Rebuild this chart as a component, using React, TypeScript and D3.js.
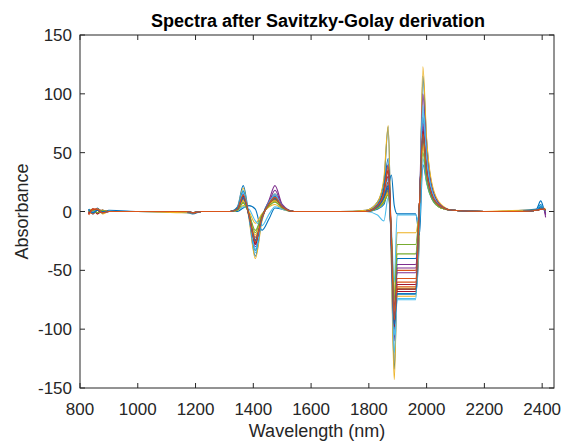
import * as d3 from 'd3';

// wavelength knots (nm) shared by all spectra
const knots = [
  830, 845, 860, 878, 900, 1000, 1170, 1190, 1220, 1320,
  1345, 1365, 1385, 1407, 1430, 1455, 1475, 1500, 1540, 1700,
  1790, 1830, 1852, 1867, 1878, 1888, 1898, 1962, 1975, 1987,
  2000, 2020, 2050, 2090, 2200, 2330, 2380, 2395, 2405, 2412,
];

// one row per spectrum, values read at the knots above
const spectra: number[][] = [
  [2, -2, 3, -1, 1, 0, -1, -2, 0, 0, 4, 22, -4, -38, -6, 8, 10, 4, 0, 0, 1, 8, 25, 72, -40, -134, -70, -70, -20, 115, 60, 20, 5, 1, 0, 1, 2, 9, 3, -2],
  [-1, 2, -2, 1, 0, 0, 0, -1, 0, 0, 2, 12, -3, -27, -5, 7, 11, 4, 0, 0, 0, 4, 14, 35, -25, -95, -60, -60, 5, 68, 36, 14, 4, 1, 0, 0, 1, 3, 2, 1],
  [1, 0, 2, -2, 0, 0, -1, -1, 0, 0, 3, 20, -6, -40, -8, 9, 15, 5, 0, 0, 1, 8, 28, 73, -45, -143, -65, -65, -15, 123, 62, 22, 6, 1, 0, 1, 1, 4, 3, 2],
  [0, 1, -1, 1, 0, 0, 0, -1, 0, 0, 2, 15, -4, -30, -6, 10, 22, 6, 0, 0, 0, 5, 12, 25, -30, -110, -45, -45, 5, 100, 50, 18, 5, 1, 0, 0, 1, 2, 3, -5],
  [1, -1, 1, 0, 0, 0, 0, -1, 0, 0, 1, 8, -2, -18, -3, 5, 10, 3, 0, 0, 0, 3, 8, 20, -20, -85, -28, -28, 5, 60, 30, 12, 3, 1, 0, 0, 1, 2, 2, 1],
  [0, 2, -1, 1, 0, 0, 0, -1, 0, 0, 3, 18, -5, -35, -6, 8, 15, 5, 0, 0, 0, 5, 16, 30, -35, -120, -75, -75, 0, 90, 46, 16, 4, 1, 0, 0, 1, 3, 2, 1],
  [-2, 1, 2, -1, 0, 0, 0, -1, 0, 0, 2, 12, -3, -25, -5, 6, 10, 4, 0, 0, 0, 5, 18, 40, -20, -90, -68, -68, 5, 60, 32, 13, 4, 1, 0, 0, 1, 2, 2, 1],
  [1, -1, 2, 0, 0, 0, 0, -1, 0, 0, 0, 3, 5, 2, -16, -6, 3, 2, 0, 0, 0, 2, 6, 20, 31, 5, -2, -2, -20, 40, 25, 10, 3, 1, 0, 0, 1, 6, 2, 0],
  [0, -2, 1, 1, 0, 0, 0, -1, 0, 0, 1, 10, -2, -22, -4, 6, 9, 3, 0, 0, 0, 3, 10, 18, -22, -80, -50, -50, 5, 65, 33, 12, 4, 1, 0, 0, 1, 2, 2, 1],
  [1, 1, -1, 0, 0, 0, 0, -1, 0, 0, 1, 5, 0, -10, -2, 4, 6, 2, 0, 0, 0, 3, 8, 15, -20, -70, -18, -18, 5, 55, 28, 11, 3, 1, 0, 0, 1, 3, 2, 1],
  [-1, 1, 1, -1, 0, 0, 0, -1, 0, 0, 2, 14, -3, -28, -5, 8, 18, 5, 0, 0, 0, 4, 12, 22, -28, -95, -52, -52, 5, 72, 37, 14, 4, 1, 0, 0, 1, 2, 2, -3],
  [0, -1, 2, 0, 0, 0, 0, -1, 0, 0, 2, 10, -3, -24, -4, 6, 10, 3, 0, 0, 0, 3, 10, 18, -25, -88, -66, -66, 5, 62, 32, 12, 3, 1, 0, 0, 1, 2, 2, 1],
  [1, 0, 1, -1, 0, 0, 0, -1, 0, 0, 1, 4, 2, -8, -12, -2, 4, 2, 0, 0, 0, -3, -8, 12, -15, -60, -3, -3, -10, 45, 24, 10, 3, 1, 0, 0, 1, 5, 2, 0],
  [-1, 2, -2, 1, 0, 0, 0, -1, 0, 0, 2, 13, -3, -28, -5, 7, 12, 4, 0, 0, 0, 4, 14, 30, -28, -100, -62, -62, 5, 70, 36, 13, 4, 1, 0, 0, 1, 2, 2, 1],
  [2, -1, 1, 0, 0, 0, 0, -1, 0, 0, 3, 17, -4, -33, -6, 8, 13, 4, 0, 0, 0, 6, 20, 45, -30, -100, -40, -40, 0, 80, 42, 15, 4, 1, 0, 0, 1, 4, 2, 1],
  [-2, 1, 2, 0, 0, 0, 0, -1, 0, 0, 2, 12, -3, -26, -5, 7, 11, 4, 0, 0, 0, 4, 13, 25, -26, -92, -57, -57, 5, 66, 34, 13, 4, 1, 0, 0, 1, 2, 2, 1],
  [0, 2, -1, 1, 0, 0, 0, -1, 0, 0, 1, 9, -2, -20, -4, 6, 9, 3, 0, 0, 0, 3, 9, 16, -22, -85, -72, -72, 5, 58, 30, 12, 3, 1, 0, 0, 1, 2, 2, 1],
  [1, -1, 1, 0, 0, 0, 0, -1, 0, 0, 2, 11, -3, -24, -5, 7, 14, 4, 0, 0, 0, 4, 12, 20, -25, -90, -48, -48, 5, 75, 38, 14, 4, 1, 0, 0, 1, 2, 2, -2],
  [0, 1, -1, 1, 0, 0, 0, -1, 0, 0, 1, 7, -2, -16, -3, 5, 8, 3, 0, 0, 0, 3, 8, 14, -20, -75, -36, -36, 5, 50, 26, 10, 3, 1, 0, 0, 1, 2, 2, 1],
  [1, -1, 2, -1, 0, 0, 0, -1, 0, 0, 2, 16, -4, -32, -6, 8, 14, 4, 0, 0, 0, 5, 15, 28, -30, -105, -74, -74, 0, 85, 44, 16, 4, 1, 0, 0, 1, 3, 2, 1],
  [-2, 2, 1, -1, 0, 0, 0, -1, 0, 0, 2, 13, -3, -27, -5, 7, 11, 4, 0, 0, 0, 5, 16, 35, -26, -98, -66, -66, 5, 68, 35, 13, 4, 1, 0, 0, 1, 2, 2, 1],
  [1, -1, 1, 0, 0, 0, 0, -1, 0, 0, 2, 12, -3, -25, -5, 7, 11, 4, 0, 0, 0, 4, 12, 22, -26, -96, -70, -70, 5, 64, 33, 12, 4, 1, 0, 0, 1, 3, 2, 1],
  [-3, 2, 2, -1, 0, 0, 0, -1, 0, 0, 2, 14, -3, -26, -5, 7, 12, 4, 0, 0, 0, 5, 16, 38, -24, -92, -64, -64, 5, 66, 34, 13, 4, 1, 0, 0, 1, 2, 2, 1],
];

const lineColors = ['#0072BD', '#D95319', '#EDB120', '#7E2F8E', '#77AC30', '#4DBEEE', '#A2142F'];
const xTicks = [800, 1000, 1200, 1400, 1600, 1800, 2000, 2200, 2400];
const yTicks = [-150, -100, -50, 0, 50, 100, 150];

const W = 563;
const H = 442;
const box = { left: 80, top: 35, right: 554, bottom: 388 };
const axisColor = '#262626';
const font = 'Liberation Sans, Arial, Helvetica, sans-serif';

export default function App() {
  const x = d3.scaleLinear().domain([800, 2441]).range([box.left, box.right]);
  const y = d3.scaleLinear().domain([-150, 150]).range([box.bottom, box.top]);

  const line = d3
    .line<number>()
    .x((_, i) => x(knots[i]))
    .y((d) => y(d))
    .curve(d3.curveMonotoneX);

  const tick = 5;

  return (
    <svg
      width={W}
      height={H}
      style={{ position: 'absolute', left: 0, top: 0, background: '#fff' }}
      fontFamily={font}
    >
      <defs>
        <clipPath id="plot">
          <rect x={box.left} y={box.top} width={box.right - box.left} height={box.bottom - box.top} />
        </clipPath>
      </defs>

      <g clipPath="url(#plot)">
        {spectra.map((s, i) => (
          <path
            key={`s-${i}`}
            d={line(s) ?? ''}
            fill="none"
            stroke={lineColors[i % lineColors.length]}
            strokeWidth={1.1}
          />
        ))}
      </g>

      {/* box and ticks */}
      <rect
        x={box.left}
        y={box.top}
        width={box.right - box.left}
        height={box.bottom - box.top}
        fill="none"
        stroke={axisColor}
        strokeWidth={1}
      />
      {xTicks.map((t) => (
        <g key={`xt-${t}`}>
          <line x1={x(t)} x2={x(t)} y1={box.bottom} y2={box.bottom - tick} stroke={axisColor} />
          <line x1={x(t)} x2={x(t)} y1={box.top} y2={box.top + tick} stroke={axisColor} />
          <text x={x(t)} y={box.bottom + 27} textAnchor="middle" fontSize={17} fill={axisColor}>
            {t}
          </text>
        </g>
      ))}
      {yTicks.map((t) => (
        <g key={`yt-${t}`}>
          <line x1={box.left} x2={box.left + tick} y1={y(t)} y2={y(t)} stroke={axisColor} />
          <line x1={box.right} x2={box.right - tick} y1={y(t)} y2={y(t)} stroke={axisColor} />
          <text x={box.left - 8} y={y(t) + 6} textAnchor="end" fontSize={17} fill={axisColor}>
            {t}
          </text>
        </g>
      ))}

      <text
        x={318}
        y={27}
        textAnchor="middle"
        fontSize={18}
        fontWeight="bold"
        fill="#000"
      >
        Spectra after Savitzky-Golay derivation
      </text>
      <text
        x={(box.left + box.right) / 2}
        y={437}
        textAnchor="middle"
        fontSize={18}
        fill={axisColor}
      >
        Wavelength (nm)
      </text>
      <text
        transform={`translate(28, ${(box.top + box.bottom) / 2}) rotate(-90)`}
        textAnchor="middle"
        fontSize={18}
        fill={axisColor}
      >
        Absorbance
      </text>
    </svg>
  );
}
